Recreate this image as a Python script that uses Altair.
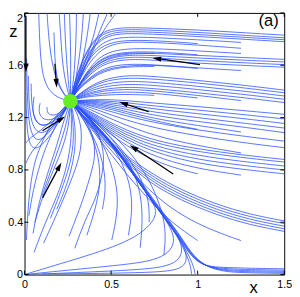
import math
import pandas as pd
import altair as alt

W, H = 267, 269
XMAX, ZMAX = 1.5, 2.0

focus_x, focus_z = 0.265, 1.325

x_ticks = [0, 0.5, 1, 1.5]
z_ticks = [0, 0.4, 0.8, 1.2, 1.6, 2]

panel_label = "(a)"
panel_label_pos = (1.41, 1.935)

# streamlines coming from the upper right
upper_right_lines = [
    [(1.5,1.83),(1.25,1.85),(1.0,1.87),(0.72,1.885),(0.55,1.89),(0.45,1.86),(0.38,1.76),(0.33,1.63),(0.29,1.47)],
    [(1.5,1.81),(1.25,1.83),(1.0,1.852),(0.72,1.87),(0.55,1.875),(0.45,1.845),(0.38,1.75),(0.33,1.62),(0.29,1.47)],
    [(1.5,1.795),(1.25,1.815),(1.0,1.835),(0.72,1.855),(0.55,1.86),(0.46,1.83),(0.39,1.74),(0.335,1.61),(0.295,1.47)],
    [(1.5,1.78),(1.25,1.80),(1.0,1.82),(0.72,1.84),(0.55,1.845),(0.46,1.815),(0.39,1.73),(0.34,1.6),(0.3,1.47)],
    [(1.25,1.775),(1.0,1.795),(0.75,1.812),(0.57,1.818),(0.47,1.79),(0.4,1.715),(0.345,1.59),(0.3,1.46)],
    [(1.0,1.766),(0.8,1.785),(0.6,1.795),(0.48,1.77),(0.4,1.7),(0.345,1.58),(0.3,1.46)],
    [(1.25,1.73),(1.0,1.755),(0.75,1.775),(0.58,1.78),(0.48,1.75),(0.41,1.68),(0.35,1.57),(0.305,1.45)],
    [(1.25,1.69),(1.0,1.71),(0.8,1.725),(0.62,1.73),(0.5,1.71),(0.42,1.65),(0.36,1.55),(0.31,1.44)],
    [(1.0,1.68),(0.8,1.70),(0.62,1.705),(0.5,1.685),(0.42,1.63),(0.36,1.54),(0.31,1.44)],
    [(0.75,1.69),(0.6,1.69),(0.5,1.665),(0.42,1.61),(0.36,1.53),(0.31,1.43)],
    [(1.5,1.645),(1.25,1.66),(1.0,1.675),(0.75,1.692),(0.6,1.697),(0.49,1.672),(0.41,1.615),(0.35,1.52),(0.3,1.425)],
    [(1.5,1.625),(1.25,1.64),(1.0,1.655),(0.75,1.675),(0.6,1.68),(0.49,1.655),(0.41,1.6),(0.35,1.51),(0.3,1.42)],
    [(1.5,1.605),(1.25,1.62),(1.0,1.635),(0.75,1.658),(0.6,1.665),(0.49,1.64),(0.41,1.585),(0.35,1.5),(0.3,1.415)],
    [(1.5,1.585),(1.25,1.60),(1.0,1.615),(0.75,1.64),(0.6,1.648),(0.49,1.625),(0.41,1.57),(0.35,1.49),(0.3,1.41)],
    [(1.0,1.575),(0.8,1.6),(0.62,1.612),(0.5,1.595),(0.42,1.55),(0.35,1.475),(0.3,1.4)],
    [(1.25,1.56),(1.0,1.58),(0.78,1.6),(0.62,1.6),(0.5,1.58),(0.42,1.54),(0.35,1.47),(0.3,1.4)],
    [(0.75,1.59),(0.6,1.59),(0.5,1.57),(0.42,1.53),(0.35,1.46),(0.3,1.4)],
]

upper_mid_lines = [
    [(1.5,1.41),(1.25,1.45),(1.0,1.485),(0.75,1.515),(0.6,1.525),(0.48,1.5),(0.39,1.45),(0.32,1.385)],
    [(1.5,1.39),(1.25,1.43),(1.0,1.465),(0.75,1.495),(0.6,1.505),(0.48,1.485),(0.39,1.44),(0.32,1.38)],
    [(1.5,1.365),(1.25,1.405),(1.0,1.44),(0.75,1.47),(0.6,1.48),(0.48,1.462),(0.39,1.425),(0.32,1.375)],
    [(1.5,1.34),(1.25,1.38),(1.0,1.415),(0.75,1.447),(0.6,1.457),(0.48,1.442),(0.39,1.41),(0.32,1.37)],
    [(1.5,1.315),(1.25,1.355),(1.0,1.39),(0.75,1.422),(0.6,1.435),(0.48,1.422),(0.39,1.395),(0.32,1.365)],
    [(1.25,1.33),(1.0,1.37),(0.75,1.405),(0.6,1.418),(0.48,1.408),(0.39,1.385),(0.32,1.36)],
    [(1.0,1.35),(0.8,1.38),(0.62,1.398),(0.5,1.392),(0.4,1.375),(0.32,1.355)],
    [(0.75,1.37),(0.6,1.378),(0.5,1.375),(0.4,1.365),(0.32,1.35)],
    [(1.5,1.225),(1.25,1.255),(1.0,1.285),(0.75,1.31),(0.55,1.335),(0.4,1.34)],
    [(1.5,1.19),(1.25,1.225),(1.0,1.258),(0.75,1.288),(0.55,1.32),(0.4,1.333)],
    [(1.5,1.155),(1.25,1.195),(1.0,1.23),(0.75,1.265),(0.55,1.305),(0.4,1.327)],
    [(1.5,1.12),(1.25,1.16),(1.0,1.2),(0.75,1.24),(0.55,1.29),(0.4,1.32)],
    [(1.5,1.085),(1.25,1.13),(1.0,1.17),(0.75,1.215),(0.55,1.275),(0.4,1.312)],
    [(1.25,1.09),(1.0,1.14),(0.75,1.19),(0.55,1.26),(0.4,1.305)],
    [(1.0,1.11),(0.8,1.16),(0.62,1.22),(0.48,1.27),(0.37,1.3)],
    [(1.5,1.02),(1.25,1.06),(1.0,1.105),(0.75,1.16),(0.55,1.225),(0.4,1.285)],
    [(1.5,0.97),(1.25,1.01),(1.0,1.06),(0.75,1.12),(0.55,1.195),(0.4,1.27)],
    [(1.25,0.93),(1.0,0.985),(0.75,1.06),(0.55,1.16),(0.4,1.25)],
]

lower_right_lines = [
    [(1.5,0.88),(1.25,0.915),(1.0,0.96),(0.8,1.01),(0.65,1.07),(0.52,1.145),(0.4,1.23),(0.32,1.285)],
    [(1.5,0.86),(1.25,0.895),(1.0,0.94),(0.8,0.99),(0.65,1.05),(0.52,1.13),(0.4,1.22),(0.32,1.28)],
    [(1.5,0.83),(1.25,0.865),(1.0,0.91),(0.8,0.965),(0.65,1.03),(0.52,1.115),(0.4,1.21),(0.32,1.275)],
    [(1.5,0.80),(1.25,0.835),(1.0,0.88),(0.8,0.94),(0.65,1.01),(0.52,1.10),(0.4,1.2),(0.32,1.27)],
    [(1.5,0.77),(1.25,0.805),(1.0,0.85),(0.8,0.915),(0.65,0.99),(0.52,1.085),(0.4,1.19),(0.32,1.265)],
    [(1.25,0.76),(1.0,0.81),(0.8,0.88),(0.65,0.965),(0.52,1.07),(0.4,1.18),(0.32,1.26)],
    [(1.0,0.77),(0.85,0.82),(0.7,0.9),(0.57,1.0),(0.45,1.12),(0.35,1.23)],
    [(1.5,0.41),(1.3,0.46),(1.1,0.54),(0.9,0.65),(0.75,0.76),(0.62,0.875),(0.5,1.01),(0.4,1.135),(0.32,1.245)],
    [(1.5,0.39),(1.3,0.44),(1.1,0.52),(0.9,0.63),(0.75,0.74),(0.62,0.86),(0.5,1.0),(0.4,1.13),(0.32,1.24)],
    [(1.5,0.37),(1.3,0.42),(1.1,0.50),(0.9,0.61),(0.75,0.72),(0.62,0.845),(0.5,0.99),(0.4,1.125),(0.32,1.235)],
    [(1.5,0.35),(1.3,0.40),(1.1,0.48),(0.9,0.59),(0.75,0.70),(0.62,0.83),(0.5,0.98),(0.4,1.12),(0.32,1.23)],
    [(1.5,0.33),(1.3,0.38),(1.1,0.46),(0.9,0.57),(0.75,0.68),(0.62,0.815),(0.5,0.97),(0.4,1.115),(0.32,1.23)],
    [(1.25,0.26),(1.1,0.33),(0.95,0.42),(0.8,0.55),(0.68,0.70),(0.56,0.86),(0.46,1.01),(0.37,1.15)],
    [(1.0,0.26),(0.9,0.35),(0.8,0.46),(0.7,0.6),(0.6,0.75),(0.5,0.92),(0.41,1.07),(0.34,1.2)],
]

# lines along z = 0 that turn up along the separatrix from (1, 0)
bottom_lines = [
    [(1.5,0.044),(1.3,0.048),(1.17,0.054),(1.08,0.058),(1.01,0.085),(0.95,0.16),(0.88,0.31),(0.765,0.51),(0.635,0.75),(0.505,1.0),(0.395,1.155),(0.325,1.255)],
    [(1.5,0.034),(1.3,0.038),(1.17,0.044),(1.08,0.055),(1.013,0.086),(0.953,0.161),(0.883,0.311),(0.768,0.511),(0.638,0.751),(0.507,1.001),(0.397,1.156),(0.326,1.256)],
    [(1.5,0.025),(1.3,0.029),(1.17,0.035),(1.08,0.052),(1.016,0.087),(0.956,0.162),(0.886,0.312),(0.771,0.512),(0.641,0.752),(0.509,1.002),(0.399,1.157),(0.327,1.257)],
    [(1.5,0.017),(1.3,0.021),(1.17,0.027),(1.08,0.05),(1.019,0.088),(0.959,0.163),(0.889,0.313),(0.774,0.513),(0.644,0.753),(0.511,1.003),(0.401,1.158),(0.328,1.258)],
    [(1.5,0.009),(1.3,0.013),(1.17,0.019),(1.08,0.047),(1.022,0.089),(0.962,0.164),(0.892,0.314),(0.777,0.514),(0.647,0.754),(0.513,1.004),(0.403,1.159),(0.329,1.259)],
    [(0.965,0.0),(0.96,0.06),(0.94,0.14),(0.9,0.25),(0.85,0.36),(0.76,0.52),(0.635,0.755),(0.505,1.005),(0.395,1.16),(0.325,1.26)],
    [(0.985,0.0),(0.98,0.05),(0.955,0.13),(0.91,0.24),(0.86,0.345),(0.762,0.515),(0.633,0.752),(0.503,1.003),(0.393,1.158),(0.323,1.258)],
    [(0.0,0.0),(0.2,0.08),(0.4,0.16),(0.55,0.23),(0.67,0.31),(0.74,0.40),(0.765,0.48),(0.74,0.56),(0.635,0.755),(0.505,1.0),(0.395,1.155),(0.325,1.255)],
    [(0.0,0.0),(0.3,0.04),(0.55,0.072),(0.72,0.1),(0.82,0.15),(0.865,0.23),(0.86,0.32),(0.8,0.45),(0.766,0.51),(0.636,0.753),(0.506,1.002),(0.396,1.157),(0.326,1.257)],
    [(0.02,0.0),(0.35,0.018),(0.6,0.033),(0.77,0.05),(0.87,0.085),(0.915,0.16),(0.9,0.26),(0.87,0.32),(0.765,0.51),(0.634,0.752),(0.504,1.001),(0.394,1.156),(0.324,1.256)],
    [(0.1,0.003),(0.5,0.01),(0.78,0.018),(0.9,0.04),(0.94,0.1),(0.93,0.2),(0.88,0.3),(0.767,0.512),(0.637,0.754),(0.507,1.004),(0.397,1.159),(0.327,1.259)],
]

middle_lines = [
    [(0.504,0.264),(0.531,0.425),(0.542,0.62),(0.505,0.84),(0.432,1.06),(0.34,1.22)],
    [(0.668,0.205),(0.684,0.425),(0.668,0.667),(0.597,0.886),(0.465,1.1),(0.35,1.24)],
    [(0.805,0.15),(0.82,0.35),(0.775,0.57),(0.695,0.79),(0.575,0.99),(0.45,1.14),(0.34,1.25)],
    [(0.6,0.3),(0.625,0.5),(0.61,0.7),(0.55,0.9),(0.45,1.09),(0.34,1.24)],
    [(0.45,0.5),(0.47,0.65),(0.46,0.82),(0.42,1.0),(0.35,1.17)],
    [(0.72,0.4),(0.72,0.56),(0.68,0.72),(0.6,0.9),(0.48,1.08),(0.36,1.22)],
]

lower_left_lines = [
    [(0.186,0.498),(0.235,0.65),(0.268,0.79),(0.292,0.94),(0.295,1.1),(0.28,1.24)],
    [(0.257,0.293),(0.339,0.571),(0.394,0.813),(0.411,0.938),(0.39,1.1),(0.32,1.25)],
    [(0.29,0.2),(0.35,0.42),(0.42,0.6),(0.455,0.8),(0.46,0.94),(0.42,1.12),(0.33,1.25)],
    [(0.049,0.315),(0.082,0.549),(0.137,0.791),(0.175,0.938),(0.215,1.12),(0.245,1.25)],
    [(0.011,0.264),(0.022,0.571),(0.049,0.813),(0.077,0.938),(0.14,1.13),(0.22,1.27)],
    [(0.06,0.40),(0.1,0.58),(0.16,0.78),(0.21,0.93),(0.25,1.1),(0.262,1.24)],
    [(0.055,0.17),(0.12,0.4),(0.19,0.6),(0.24,0.8),(0.27,1.0),(0.272,1.2)],
    [(0.11,0.24),(0.2,0.5),(0.28,0.75),(0.33,0.95),(0.33,1.15),(0.29,1.27)],
    [(0.15,0.43),(0.2,0.6),(0.25,0.78),(0.28,0.95),(0.285,1.12)],
    [(0.025,0.45),(0.05,0.65),(0.09,0.85),(0.13,1.0),(0.19,1.17)],
    [(0.36,0.3),(0.41,0.5),(0.44,0.7),(0.43,0.9),(0.38,1.1),(0.31,1.25)],
    [(0.1,0.6),(0.14,0.75),(0.18,0.9),(0.22,1.05),(0.25,1.2)],
]

left_lines = [
    [(0.004,1.99),(0.006,1.7),(0.008,1.4),(0.012,1.15),(0.025,1.0),(0.06,0.95),(0.11,1.0),(0.17,1.1),(0.22,1.22)],
    [(0.012,1.65),(0.014,1.45),(0.02,1.25),(0.032,1.1),(0.065,1.02),(0.11,1.04),(0.17,1.13),(0.225,1.23)],
    [(0.022,1.52),(0.024,1.36),(0.032,1.22),(0.052,1.12),(0.09,1.075),(0.14,1.1),(0.2,1.18)],
    [(0.038,1.46),(0.04,1.33),(0.05,1.22),(0.08,1.145),(0.12,1.135),(0.18,1.18)],
    [(0.055,1.36),(0.045,1.26),(0.06,1.17),(0.1,1.135),(0.16,1.155),(0.22,1.23)],
    [(0.09,1.31),(0.08,1.245),(0.1,1.19),(0.15,1.175),(0.21,1.22)],
    [(0.13,1.28),(0.13,1.23),(0.17,1.21),(0.22,1.25)],
    [(0.008,0.85),(0.03,0.92),(0.08,1.0),(0.14,1.1),(0.2,1.2)],
    [(0.005,1.0),(0.02,1.03),(0.06,1.07),(0.12,1.13),(0.19,1.22)],
]

top_lines = [
    [(0.082,2.0),(0.088,1.75),(0.1,1.55),(0.13,1.42),(0.19,1.35)],
    [(0.13,2.0),(0.14,1.8),(0.16,1.6),(0.19,1.46),(0.23,1.37)],
    [(0.17,1.85),(0.175,1.65),(0.185,1.5),(0.22,1.39)],
    [(0.2,2.0),(0.21,1.8),(0.22,1.6),(0.24,1.45)],
    [(0.23,2.0),(0.235,1.8),(0.245,1.6),(0.255,1.45)],
    [(0.26,2.0),(0.265,1.8),(0.267,1.6),(0.266,1.45)],
    [(0.3,2.0),(0.298,1.8),(0.29,1.6),(0.28,1.45)],
    [(0.34,2.0),(0.33,1.8),(0.31,1.6),(0.29,1.45)],
    [(0.38,2.0),(0.36,1.8),(0.33,1.6),(0.3,1.45)],
    [(0.43,2.0),(0.4,1.82),(0.35,1.62),(0.3,1.46)],
    [(0.48,2.0),(0.43,1.85),(0.37,1.65),(0.31,1.47)],
    [(0.53,2.0),(0.46,1.88),(0.39,1.7),(0.32,1.5)],
]

# direction arrows: tail (x0, z0) -> tip (x1, z1)
arrow_x0 = [0.008, 0.175, 0.104, 1.013, 0.717, 0.859, 0.104]
arrow_z0 = [1.978, 1.612, 1.099, 1.604, 1.245, 0.769, 0.586]
arrow_x1 = [0.008, 0.186, 0.235, 0.739, 0.547, 0.608, 0.213]
arrow_z1 = [1.546, 1.429, 1.209, 1.656, 1.319, 0.989, 0.857]

families = [upper_right_lines, upper_mid_lines, lower_right_lines, bottom_lines,
            middle_lines, lower_left_lines, left_lines, top_lines]
rows = []
lid = 0
for fam in families:
    for line in fam:
        pts = list(line) + [(focus_x, focus_z)]
        for i, (x, z) in enumerate(pts):
            rows.append({"line": lid, "i": i, "x": x, "z": z})
        lid += 1
lines_df = pd.DataFrame(rows)

sx, sz = W / XMAX, H / ZMAX
arr_rows = []
for x0, z0, x1, z1 in zip(arrow_x0, arrow_z0, arrow_x1, arrow_z1):
    dxp, dyp = (x1 - x0) * sx, -(z1 - z0) * sz
    L = math.hypot(dxp, dyp)
    ang = math.degrees(math.atan2(dxp, -dyp)) % 360
    back = 4.0 / L
    arr_rows.append({"x0": x0, "z0": z0, "x1": x1, "z1": z1,
                     "xs": x1 - (x1 - x0) * back, "zs": z1 - (z1 - z0) * back,
                     "ang": ang})
arrows_df = pd.DataFrame(arr_rows)

FONT = "Liberation Sans"
xs = alt.Scale(domain=[0, XMAX], nice=False, zero=False)
zs = alt.Scale(domain=[0, ZMAX], nice=False, zero=False)
x_axis = alt.Axis(values=x_ticks, format="~g", title="x", grid=False, ticks=False, domain=False,
                  labelFont=FONT, labelFontSize=11, labelColor="black", labelPadding=4, labelFlush=False,
                  titleFont=FONT, titleFontSize=17, titleFontWeight="normal", titleColor="black",
                  titleX=235, titleY=18, titleAlign="center", titleBaseline="alphabetic")
y_axis = alt.Axis(values=z_ticks, format="~g", title="z", grid=False, ticks=False, domain=False,
                  labelFont=FONT, labelFontSize=11, labelColor="black", labelPadding=2,
                  labelBaseline={"condition": {"test": "datum.value == 2", "value": "top"}, "value": "middle"},
                  titleFont=FONT, titleFontSize=17, titleFontWeight="normal", titleColor="black",
                  titleAngle=0, titleX=-12, titleY=24, titleAlign="center", titleBaseline="alphabetic")

def X(f):
    return alt.X(f, type="quantitative", scale=xs, axis=x_axis)

def Y(f):
    return alt.Y(f, type="quantitative", scale=zs, axis=y_axis)

streams = alt.Chart(lines_df).mark_line(interpolate="basis", color="#2a50ff", strokeWidth=0.8, clip=True).encode(
    x=X("x"), y=Y("z"), detail="line:N", order="i:Q")

shafts = alt.Chart(arrows_df).mark_rule(color="black", strokeWidth=1.3).encode(
    x=X("x0"), y=Y("z0"), x2="xs", y2="zs")
heads = alt.Chart(arrows_df).mark_point(shape="M0,0L0.5,1.7L-0.5,1.7Z", filled=True, size=112,
                                         color="black", opacity=1).encode(
    x=X("x1"), y=Y("z1"), angle=alt.Angle("ang:Q", scale=None))

dot = alt.Chart(pd.DataFrame({"x": [focus_x], "z": [focus_z]})).mark_circle(
    size=225, color="#66ee22", opacity=1).encode(x=X("x"), y=Y("z"))

xt = pd.DataFrame({"v": x_ticks})
zt = pd.DataFrame({"v": z_ticks})
tick_b = alt.Chart(xt).mark_rule(color="black").encode(x=X("v"), y=alt.value(H), y2=alt.value(H - 4))
tick_t = alt.Chart(xt).mark_rule(color="black").encode(x=X("v"), y=alt.value(0), y2=alt.value(4))
tick_l = alt.Chart(zt).mark_rule(color="black").encode(y=Y("v"), x=alt.value(0), x2=alt.value(4))
tick_r = alt.Chart(zt).mark_rule(color="black").encode(y=Y("v"), x=alt.value(W), x2=alt.value(W - 4))

label = alt.Chart(pd.DataFrame({"x": [panel_label_pos[0]], "z": [panel_label_pos[1]], "t": [panel_label]})).mark_text(
    font=FONT, fontSize=17, color="black", align="center", baseline="middle").encode(
    x=X("x"), y=Y("z"), text="t:N")

chart = alt.layer(streams, shafts, heads, dot, tick_b, tick_t, tick_l, tick_r, label).properties(
    width=W, height=H,
    padding={"left": 17, "top": 1, "right": 8, "bottom": 19},
    autosize=alt.AutoSizeParams(type="none"),
    background="white",
).configure_view(stroke="black", strokeWidth=1)

chart.save("out.html", embed_options={"renderer": "svg", "actions": False})
